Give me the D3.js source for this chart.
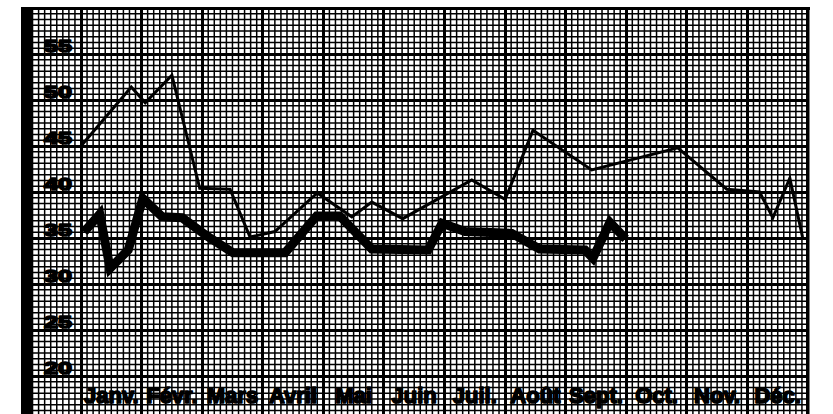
<!DOCTYPE html>
<html>
<head>
<meta charset="utf-8">
<script src="https://cdn.jsdelivr.net/npm/d3@7"></script>
<style>
  html, body { margin: 0; padding: 0; background: #fff; }
  svg { display: block; }
</style>
</head>
<body>
<svg id="chart" width="833" height="414"></svg>
<script>
// Month names along the bottom row
const months = ["Janv.", "Févr.", "Mars", "Avril", "Mai", "Juin", "Juil.", "Août", "Sept.", "Oct.", "Nov.", "Déc."];
// Value labels written above the major horizontal rules
const yTicks = [20, 25, 30, 35, 40, 45, 50, 55];

// Upper curve: time in months from 1 January, and value
const upperT = [0, 0.83, 1.06, 1.5, 1.96, 2.46, 2.79, 3.2, 3.9, 4.47, 4.8, 5.31, 6.45, 7.0, 7.46, 8.43, 9.85, 10.66, 11.2, 11.42, 11.7, 11.91];
const upperV = [45.0, 51.4, 49.7, 52.7, 40.4, 40.3, 35.1, 35.7, 39.9, 37.3, 38.9, 37.1, 41.3, 39.2, 46.7, 42.4, 44.8, 40.3, 40.0, 37.2, 41.5, 35.1];

// Lower (heavy) curve: time in months from 1 January, and value
const lowerT = [0.05, 0.31, 0.48, 0.78, 1.02, 1.34, 1.67, 2.08, 2.51, 3.37, 3.89, 4.27, 4.8, 5.73, 5.96, 6.34, 7.11, 7.57, 8.32, 8.45, 8.73, 8.99];
const lowerV = [35.65, 37.6, 31.7, 33.7, 39.3, 37.3, 37.2, 35.2, 33.4, 33.4, 37.4, 37.4, 33.8, 33.7, 36.6, 35.7, 35.5, 33.8, 33.7, 32.8, 36.7, 34.9];

(function () {
  const svg = d3.select("#chart");
  const W = 833, H = 414;

  // Paper area
  const pL = 33, pR = 808, pT = 8, pB = 414;

  const x = d3.scaleLinear().domain([0, 12]).range([81, 808]);
  const y = d3.scaleLinear().domain([20, 55]).range([376, 54]);

  svg.append("rect").attr("width", W).attr("height", H).attr("fill", "#fff");

  svg.append("defs").append("clipPath").attr("id", "paper")
    .append("rect").attr("x", pL).attr("y", pT).attr("width", pR - pL).attr("height", pB - pT);

  const grid = svg.append("g").attr("clip-path", "url(#paper)");

  // Minor grid: tenths of a month, eighths of five units
  const minorX = d3.range(-8, 121).filter(i => i % 10 !== 0).map(i => i / 10);
  const minorY = d3.range(-8, 66).filter(i => i % 8 !== 0).map(i => 20 + i * 5 / 8);
  const majorX = d3.range(0, 13);
  const majorY = d3.range(-1, 9).map(i => 20 + i * 5);

  grid.selectAll("line.mx").data(minorX).join("line").attr("class", "mx")
    .attr("x1", d => x(d)).attr("x2", d => x(d)).attr("y1", pT).attr("y2", pB)
    .attr("stroke", "#000").attr("stroke-width", 1.5);
  grid.selectAll("line.my").data(minorY).join("line").attr("class", "my")
    .attr("y1", d => y(d)).attr("y2", d => y(d)).attr("x1", pL).attr("x2", pR)
    .attr("stroke", "#000").attr("stroke-width", 1.5);
  grid.selectAll("line.Mx").data(majorX).join("line").attr("class", "Mx")
    .attr("x1", d => x(d)).attr("x2", d => x(d)).attr("y1", pT).attr("y2", pB)
    .attr("stroke", "#000").attr("stroke-width", 3).attr("shape-rendering", "crispEdges");
  grid.selectAll("line.My").data(majorY).join("line").attr("class", "My")
    .attr("y1", d => y(d)).attr("y2", d => y(d)).attr("x1", pL).attr("x2", pR)
    .attr("stroke", "#000").attr("stroke-width", 3).attr("shape-rendering", "crispEdges");

  // Frame: heavy bar on the left, rules on top and right
  svg.append("rect").attr("x", 21).attr("y", pT - 1).attr("width", 12).attr("height", pB - pT + 1).attr("fill", "#000");
  svg.append("rect").attr("x", 21).attr("y", pT - 1).attr("width", pR - 21 + 2).attr("height", 3).attr("fill", "#000");
  svg.append("rect").attr("x", pR - 2).attr("y", pT - 1).attr("width", 3.5).attr("height", pB - pT + 1).attr("fill", "#000");

  const labelFont = "'Liberation Sans', Arial, sans-serif";

  // Value labels
  svg.append("g").selectAll("text").data(yTicks).join("text")
    .attr("x", 72).attr("y", d => y(d) - 2.5)
    .attr("text-anchor", "end")
    .attr("textLength", 28).attr("lengthAdjust", "spacingAndGlyphs")
    .attr("font-family", labelFont)
    .attr("font-weight", "bold").attr("font-size", 17)
    .attr("fill", "#000").attr("stroke", "#000").attr("stroke-width", 1.5)
    .attr("stroke-linejoin", "round")
    .text(d => d);

  // Month labels
  svg.append("g").selectAll("text").data(months).join("text")
    .attr("x", (d, i) => x(i + 0.5)).attr("y", 403)
    .attr("text-anchor", "middle")
    .attr("font-family", labelFont)
    .attr("font-weight", "bold").attr("font-size", 22)
    .attr("fill", "#000").attr("stroke", "#000").attr("stroke-width", 1.6)
    .attr("stroke-linejoin", "round")
    .text(d => d);

  const line = d3.line().x(d => x(d[0])).y(d => y(d[1]));

  svg.append("path")
    .attr("d", line(upperT.map((t, i) => [t, upperV[i]])))
    .attr("fill", "none").attr("stroke", "#000").attr("stroke-width", 3)
    .attr("stroke-linejoin", "miter");

  svg.append("path")
    .attr("d", line(lowerT.map((t, i) => [t, lowerV[i]])))
    .attr("fill", "none").attr("stroke", "#000").attr("stroke-width", 9)
    .attr("stroke-linejoin", "miter").attr("stroke-miterlimit", 3);
})();
</script>
</body>
</html>
